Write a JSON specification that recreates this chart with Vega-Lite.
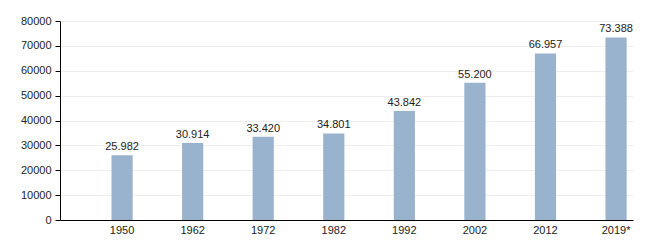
{
  "$schema": "https://vega.github.io/schema/vega-lite/v6.json",
  "width": 573,
  "height": 199,
  "autosize": {"type": "none"},
  "padding": {"left": 60, "top": 21, "right": 17, "bottom": 30},
  "background": "white",
  "data": {"values": [
    {"year": "1950", "pop": 25982, "label": "25.982"},
    {"year": "1962", "pop": 30914, "label": "30.914"},
    {"year": "1972", "pop": 33420, "label": "33.420"},
    {"year": "1982", "pop": 34801, "label": "34.801"},
    {"year": "1992", "pop": 43842, "label": "43.842"},
    {"year": "2002", "pop": 55200, "label": "55.200"},
    {"year": "2012", "pop": 66957, "label": "66.957"},
    {"year": "2019*", "pop": 73388, "label": "73.388"}
  ]},
  "encoding": {
    "x": {"field": "year", "type": "nominal", "sort": null,
      "scale": {"paddingInner": 0.7, "paddingOuter": 0.41, "align": 0.89},
      "axis": {"title": null, "labelAngle": 0, "ticks": false, "domainColor": "#000000", "labelColor": "#222222", "labelFont": "Liberation Sans", "labelFontSize": 11, "labelPadding": 4, "grid": false}},
    "y": {"field": "pop", "type": "quantitative",
      "scale": {"domain": [0, 80000], "nice": false},
      "axis": {"title": null, "values": [0,10000,20000,30000,40000,50000,60000,70000,80000], "format": "d", "domainColor": "#000000", "tickColor": "#000000", "tickSize": 5, "labelColor": "#222222", "labelFont": "Liberation Sans", "labelFontSize": 11, "labelPadding": 4, "gridColor": "#eeeeee", "gridWidth": 1}}
  },
  "layer": [
    {"mark": {"type": "bar", "color": "#99b2cd"}},
    {"mark": {"type": "text", "baseline": "bottom", "dy": -3, "font": "Liberation Sans", "fontSize": 11, "color": "#222222"},
      "encoding": {"text": {"field": "label", "type": "nominal"}}}
  ],
  "config": {"view": {"stroke": null}}
}
